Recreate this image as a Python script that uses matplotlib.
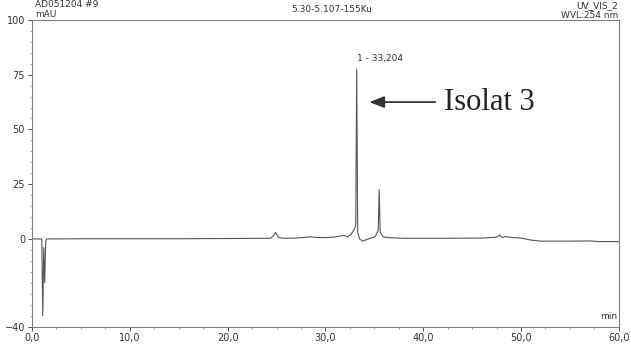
import matplotlib.pyplot as plt
import numpy as np
from matplotlib.ticker import MultipleLocator, FuncFormatter

# chromatogram trace (min, mAU)
t = [0.0, 1.0, 1.1, 1.2, 1.3, 1.4, 1.5, 5.0, 10.0, 15.0, 20.0, 24.4, 24.7, 24.9, 25.2, 25.6,
     27.0, 28.0, 28.5, 29.0, 30.0, 31.0, 31.8, 32.3, 32.6, 32.9, 33.1, 33.2, 33.3, 33.5, 33.8,
     34.5, 35.1, 35.4, 35.5, 35.6, 35.9, 36.5, 38.0, 42.0, 46.0, 47.5, 47.8, 48.1, 48.4, 49.0,
     50.0, 51.0, 52.0, 55.0, 57.0, 58.0, 60.0]
mau = [0.0, 0.0, -35.0, -4.0, -20.0, -1.0, 0.0, 0.1, 0.1, 0.1, 0.2, 0.3, 1.5, 3.0, 0.8, 0.3,
       0.4, 0.8, 1.0, 0.7, 0.6, 0.9, 1.6, 1.0, 2.0, 4.0, 6.0, 77.5, 3.0, 0.0, -1.0,
       0.2, 1.0, 4.0, 22.5, 3.0, 1.0, 0.6, 0.3, 0.3, 0.4, 0.8, 1.8, 0.6, 1.1, 0.7,
       0.4, -0.5, -1.0, -1.0, -0.9, -1.2, -1.2]

y_ticks = [100, 75, 50, 25, 0, -40]
x_ticks = [0, 10, 20, 30, 40, 50, 60]
peak_t, peak_h, peak_label = 33.2, 77.5, "1 - 33,204"

fig = plt.figure(figsize=(6.31, 3.5), dpi=100)
ax = fig.add_axes([0.0507, 0.067, 0.93, 0.876])
ax.plot(t, mau, color='#555555', lw=0.8)
ax.set_xlim(0, 60)
ax.set_ylim(-40, 100)

ax.set_yticks(y_ticks)
ax.set_xticks(x_ticks)
ax.xaxis.set_minor_locator(MultipleLocator(2.5))
ax.yaxis.set_minor_locator(MultipleLocator(5))
ax.xaxis.set_major_formatter(FuncFormatter(lambda v, p: f"{v:.1f}".replace('.', ',')))
ax.tick_params(labelsize=7, colors='#333333', length=3, width=0.6, pad=2)
ax.tick_params(which='minor', length=1.5, width=0.5, colors='#777777')
for s in ax.spines.values():
    s.set_color('#777777')
    s.set_linewidth(0.7)

ax.text(peak_t, peak_h + 3, peak_label, fontsize=6.5, ha='left', va='bottom', color='#333333')
ax.annotate("", xy=(34.2, 62.5), xytext=(41.5, 62.5),
            arrowprops=dict(arrowstyle='-|>,head_length=0.9,head_width=0.35', color='#333333', lw=1.3))
ax.text(42.1, 62.5, "Isolat 3", fontsize=22, family='Liberation Serif', va='center', ha='left', color='#222222')

fig.text(0.056, 0.988, "AD051204 #9", fontsize=6.5, color='#333333', va='center')
fig.text(0.056, 0.958, "mAU", fontsize=6.5, color='#333333', va='center')
fig.text(0.525, 0.972, "5.30-5.107-155Ku", fontsize=6.5, color='#333333', va='center', ha='center')
fig.text(0.98, 0.983, "UV_VIS_2", fontsize=6.5, color='#333333', va='center', ha='right')
fig.text(0.98, 0.955, "WVL:254 nm", fontsize=6.5, color='#333333', va='center', ha='right')
ax.text(59.8, -37.5, "min", fontsize=6.5, color='#333333', ha='right', va='bottom')

fig.savefig("out.png", dpi=100)
